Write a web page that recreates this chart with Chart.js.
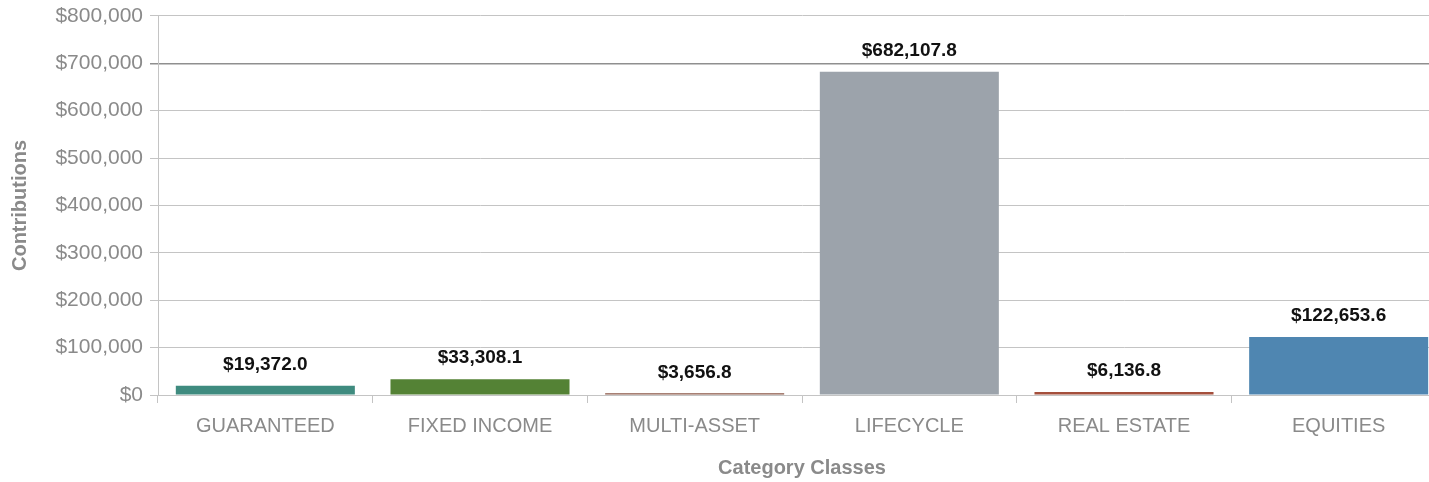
<!DOCTYPE html>
<html>
<head>
<meta charset="utf-8">
<script src="https://cdn.jsdelivr.net/npm/chart.js@4/dist/chart.umd.min.js"></script>
<style>
  html, body { margin: 0; padding: 0; background: #ffffff; overflow: hidden; }
  #wrap { width: 1429px; height: 482px; overflow: hidden; }
</style>
</head>
<body>
<div id="wrap"><canvas id="c" width="1446" height="482"></canvas></div>
<script>
const categories = ["GUARANTEED", "FIXED INCOME", "MULTI-ASSET", "LIFECYCLE", "REAL ESTATE", "EQUITIES"];
const contributions = [19372.0, 33308.1, 3656.8, 682107.8, 6136.8, 122653.6];
const barColors = ["#3f8b7f", "#548235", "#8a5646", "#9ca3ab", "#a44f3c", "#4f86b1"];
const yTickValues = [0, 100000, 200000, 300000, 400000, 500000, 600000, 700000, 800000];

function fmtTick(v) { return "$" + v.toLocaleString("en-US"); }
function fmtLabel(v) { return "$" + v.toLocaleString("en-US", { minimumFractionDigits: 1, maximumFractionDigits: 1 }); }

const FONT = "'Liberation Sans', Arial, sans-serif";

const valueLabels = {
  id: "valueLabels",
  afterDatasetsDraw(chart) {
    const ctx = chart.ctx;
    const meta = chart.getDatasetMeta(0);
    ctx.save();
    ctx.font = "bold 19px " + FONT;
    ctx.fillStyle = "#111111";
    ctx.textAlign = "center";
    ctx.textBaseline = "middle";
    meta.data.forEach((bar, i) => {
      ctx.fillText(fmtLabel(contributions[i]), bar.x, bar.y - 21);
    });
    ctx.restore();
  }
};

new Chart(document.getElementById("c"), {
  type: "bar",
  data: {
    labels: categories,
    datasets: [{
      data: contributions,
      backgroundColor: barColors,
      borderWidth: 0,
      categoryPercentage: 1.0,
      barPercentage: 0.834
    }]
  },
  options: {
    responsive: false,
    animation: false,
    events: [],
    layout: { padding: { top: 10, right: 0, bottom: 2, left: 8 } },
    plugins: { legend: { display: false }, tooltip: { enabled: false } },
    scales: {
      x: {
        afterFit(scale) { scale.height = 85; },
        grid: { offset: true, drawOnChartArea: false, drawTicks: true, tickLength: 8, color: "#c4c4c4" },
        border: { color: "#c4c4c4" },
        ticks: { color: "#8a8a8a", padding: 11, font: { family: FONT, size: 20 } },
        title: { display: true, text: "Category Classes", color: "#8a8a8a", padding: { top: 10, bottom: 0 },
                 font: { family: FONT, size: 20, weight: "bold" } }
      },
      y: {
        min: 0, max: 800000,
        afterFit(scale) { scale.width = 150; },
        afterBuildTicks(scale) { scale.ticks = yTickValues.map(v => ({ value: v })); },
        grid: {
          drawTicks: true, tickLength: 8,
          color: ctx => (ctx.tick && ctx.tick.value === 700000) ? "#8f8f8f" : "#c4c4c4",
          lineWidth: ctx => (ctx.tick && ctx.tick.value === 700000) ? 1.5 : 1
        },
        border: { color: "#c4c4c4" },
        ticks: { color: "#8a8a8a", padding: 7, callback: v => fmtTick(v),
                 font: { family: FONT, size: 21, lineHeight: 0.85 } },
        title: { display: true, text: "Contributions", color: "#8a8a8a", padding: { top: 0, bottom: 4 },
                 font: { family: FONT, size: 20, weight: "bold" } }
      }
    }
  },
  plugins: [valueLabels]
});
</script>
</body>
</html>
